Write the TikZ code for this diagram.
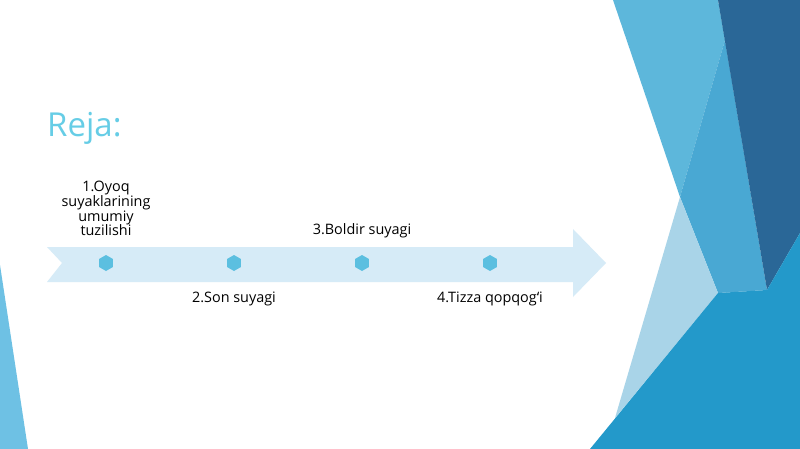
\documentclass[tikz,border=0pt]{standalone}
\usepackage{fontspec}
\setmainfont{Open Sans}
\usepackage{xcolor}
\usepackage{tikz}
\usetikzlibrary{shapes.geometric}

\definecolor{titlecyan}{HTML}{66CDE6}
\definecolor{bandblue}{HTML}{D6EBF7}
\definecolor{dotblue}{HTML}{5BBFE0}
\definecolor{lightband}{HTML}{5DB7DB}
\definecolor{midblue}{HTML}{49A8D3}
\definecolor{darkblue}{HTML}{2A6797}
\definecolor{paleblue}{HTML}{A9D4E8}
\definecolor{brightblue}{HTML}{2399CA}
\definecolor{leftblue}{HTML}{6EC1E4}

\begin{document}
\begin{tikzpicture}[x=1pt,y=-1pt]
    \tikzstyle{dot} = [regular polygon,regular polygon sides=6,shape border rotate=30,
                       fill=dotblue,minimum size=16pt,inner sep=0pt]
    \tikzstyle{stage} = [font=\fontsize{14.4}{14.6}\selectfont,align=center,inner sep=0pt]

    \useasboundingbox (0,0) rectangle (800,449);
    \fill[white] (0,0) rectangle (800,449);

    % background
    \fill[lightband] (613,0) -- (718,0) -- (725,40) -- (680,197) -- cycle;
    \fill[midblue] (725,40) -- (767,290) -- (718,293) -- (680,197) -- cycle;
    \fill[darkblue] (718,0) -- (800,0) -- (800,233) -- (767,290) -- cycle;
    \fill[paleblue] (680,197) -- (718,293) -- (615,418) -- cycle;
    \fill[brightblue] (590,449) -- (718,293) -- (767,290) -- (800,233) -- (800,449) -- cycle;
    \fill[leftblue] (0,265) -- (28,449) -- (0,449) -- cycle;

    \node[anchor=base west,inner sep=0pt,text=titlecyan,
          font=\fontsize{33}{36}\selectfont] (reja) at (47,137) {Reja:};

    % timeline
    \fill[bandblue] (47,247) -- (573,247) -- (573,229) -- (606,263) -- (573,297)
        -- (573,282) -- (47,282) -- (62,263) -- cycle;

    \node[dot] (d1) at (106,263) {};
    \node[dot] (d2) at (234,263) {};
    \node[dot] (d3) at (362,263) {};
    \node[dot] (d4) at (490,263) {};

    \node[stage,anchor=south] (s1) at (106,236) {1.Oyoq\\suyaklarining\\umumiy\\tuzilishi};
    \node[stage,anchor=base] (s2) at (234,302) {2.Son suyagi};
    \node[stage,anchor=base] (s3) at (362,234) {3.Boldir suyagi};
    \node[stage,anchor=base] (s4) at (490,302) {4.Tizza qopqog‘i};
\end{tikzpicture}
\end{document}
